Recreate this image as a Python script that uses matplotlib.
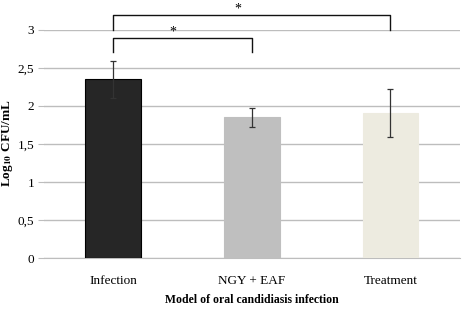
import numpy as np
import matplotlib.pyplot as plt

groups = ["Infection", "NGY + EAF", "Treatment"]
means = [2.35, 1.85, 1.91]
errs = [0.24, 0.12, 0.32]
colors = ["#262626", "#bfbfbf", "#edebe0"]
yticks = [0, 0.5, 1, 1.5, 2, 2.5, 3]
ytick_labels = ["0", "0,5", "1", "1,5", "2", "2,5", "3"]

plt.rcParams['font.family'] = ['Liberation Serif', 'DejaVu Serif']
plt.rcParams['mathtext.fontset'] = 'stix'

fig = plt.figure(figsize=(4.62, 3.09), dpi=100)
ax = fig.add_axes([0.095, 0.165, 0.9, 0.738])

x = np.arange(len(groups))
ax.bar(x, means, width=0.4, color=colors, edgecolor=["#000000", "#bfbfbf", "#edebe0"],
       linewidth=0.8, zorder=3)
ax.errorbar(x, means, yerr=errs, fmt='none', ecolor='#333333', elinewidth=0.9,
            capsize=2, capthick=0.9, zorder=4)

ax.set_xlim(-0.5, 2.5)
ax.set_ylim(0, 3)
ax.set_yticks(yticks)
ax.set_yticklabels(ytick_labels, fontsize=9.5)
ax.set_xticks(x)
ax.set_xticklabels(groups, fontsize=9.5)
ax.yaxis.grid(True, color='#bdbdbd', linewidth=1, zorder=0)
ax.tick_params(axis='x', length=0, pad=12)
ax.tick_params(axis='y', length=4, color='#bdbdbd', pad=3)
for s in ['top', 'right', 'left']:
    ax.spines[s].set_visible(False)
ax.spines['bottom'].set_color('#bdbdbd')

fig.text(8 / 462, 1 - 143 / 309, "Log$_{\\mathbf{10}}$ CFU/mL", fontsize=9.5, fontweight='bold',
         rotation=90, ha='center', va='center')
fig.text(252 / 462, 1 - 300 / 309, "Model of oral candidiasis infection", fontsize=8.5,
         fontweight='bold', ha='center', va='center')

# significance brackets
def bracket(x0, x1, ytop, ybot, star_x, star_y):
    ax.plot([x0, x0, x1, x1], [ybot, ytop, ytop, ybot], color='#111111', linewidth=1,
            clip_on=False, zorder=5)
    ax.text(star_x, star_y, "*", ha='center', va='center', fontsize=10, clip_on=False)

bracket(0, 1, 2.89, 2.71, 0.43, 2.97)
bracket(0, 2, 3.2, 3.0, 0.9, 3.28)

fig.savefig("out.png", dpi=100)
